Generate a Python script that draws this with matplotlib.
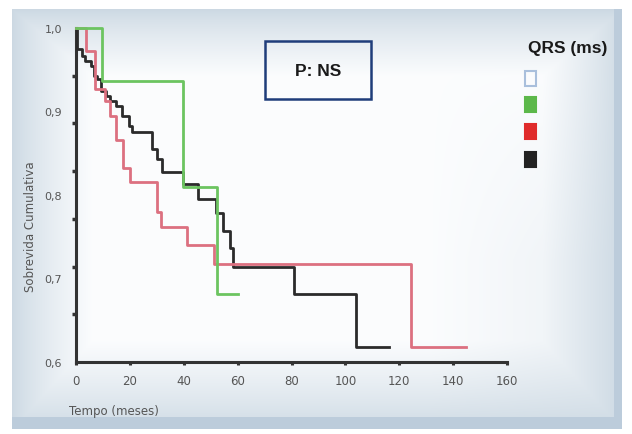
import numpy as np
import matplotlib
matplotlib.use("Agg")
import matplotlib.pyplot as plt
from matplotlib.patches import Rectangle

# ---- data ----
green_t = [0, 9.5, 39.9, 52.4, 60.0]
green_s = [1.0, 0.937, 0.810, 0.681, 0.681]

black_t = [0, 0.5, 2.3, 3.5, 5.4, 6.5, 7.9, 9.1, 11.0, 12.8, 14.7, 17.2, 19.6, 20.9,
           28.1, 29.9, 31.8, 39.6, 45.2, 51.9, 54.5, 57.0, 58.2, 80.9, 103.9, 116.2]
black_s = [1.0, 0.975, 0.967, 0.961, 0.955, 0.943, 0.939, 0.925, 0.919, 0.913, 0.907,
           0.895, 0.883, 0.875, 0.855, 0.843, 0.828, 0.813, 0.795, 0.778, 0.757, 0.736,
           0.714, 0.682, 0.618, 0.618]

red_t = [0, 3.6, 6.9, 10.9, 12.8, 14.7, 17.5, 20.0, 30.0, 31.7, 41.3, 51.3, 124.4, 144.8]
red_s = [1.0, 0.973, 0.927, 0.912, 0.895, 0.866, 0.832, 0.816, 0.780, 0.762, 0.740,
         0.717, 0.618, 0.618]

x_ticks = [0, 20, 40, 60, 80, 100, 120, 140, 160]
y_ticks = [0.6, 0.7, 0.8, 0.9, 1.0]
y_tick_labels = ["0,6", "0,7", "0,8", "0,9", "1,0"]
legend_colors = ["none", "#5cb84a", "#e02b2b", "#222222"]

W, H = 632, 435
fig = plt.figure(figsize=(W / 100, H / 100), dpi=100)
fig.patch.set_facecolor("white")

# ---- background panel gradient ----
yy, xx = np.mgrid[0:H, 0:W].astype(float)
x0, x1, y0, y1 = 12, 622, 10, 430
inside = (xx >= x0) & (xx < x1) & (yy >= y0) & (yy < y1)
d = np.minimum.reduce([xx - x0, x1 - xx, (yy - y0) * 1.2, (y1 - yy) * 0.9])
f = np.clip(d / 80.0, 0, 1) ** 0.8
# extra bluish tint on right side
rt = np.clip((xx - 430) / 190.0, 0, 1) * np.clip((yy - 60) / 200, 0, 1) * 0.35
edge = np.array([0.80, 0.85, 0.89])
center = np.array([0.985, 0.99, 0.995])
img = np.ones((H, W, 3))
col = edge[None, None, :] * (1 - f[..., None]) + center[None, None, :] * f[..., None]
col = col * (1 - rt[..., None]) + edge[None, None, :] * rt[..., None]
img[inside] = col[inside]
shadow = inside & ((yy > 417) | (xx > 613))
img[shadow] = np.array([0.74, 0.80, 0.86])
bg = fig.add_axes([0, 0, 1, 1], zorder=-10)
bg.imshow(img, aspect="auto", extent=(0, W, H, 0))
bg.axis("off")

# ---- main axes ----
ax = fig.add_axes([76 / W, 1 - 363 / H, (507 - 76) / W, (363 - 29) / H])
ax.set_facecolor("none")
ax.set_xlim(0, 160)
ax.set_ylim(0.6, 1.0)

ax.step(black_t, black_s, where="post", color="#2b2b2b", lw=2.0, clip_on=False, zorder=3)
ax.step(red_t, red_s, where="post", color="#dc7080", lw=2.0, clip_on=False, zorder=4)
ax.step(green_t, green_s, where="post", color="#6cc460", lw=2.0, clip_on=False, zorder=5)

for s in ["top", "right"]:
    ax.spines[s].set_visible(False)
for s in ["left", "bottom"]:
    ax.spines[s].set_color("#333333")
    ax.spines[s].set_linewidth(2.2)

ax.set_xticks(x_ticks)
ax.set_xticklabels([str(v) for v in x_ticks], fontsize=8.5, color="#555555",
                   family="DejaVu Sans")
ax.tick_params(axis="x", length=2.5, width=2.2, color="#333333", pad=6)

ax.set_yticks(y_ticks)
ax.set_yticklabels(y_tick_labels, fontsize=8, color="#555555", family="DejaVu Sans")
ax.tick_params(axis="y", which="major", length=0, pad=10)
ax.set_yticks([1.0 - k * 0.4 / 7 for k in range(8)], minor=True)
ax.tick_params(axis="y", which="minor", length=3, width=2.5, color="#333333")

fig.text(30 / W, 1 - 227 / H, "Sobrevida Cumulativa", rotation=90, ha="center",
         va="center", fontsize=8.5, color="#555555", family="DejaVu Sans")
fig.text(69 / W, 1 - 412 / H, "Tempo (meses)", ha="left", va="center",
         fontsize=8.5, color="#555555", family="DejaVu Sans")

# P: NS box
fig.patches.append(Rectangle((265 / W, 1 - 100 / H), 106 / W, 58 / H,
                             transform=fig.transFigure, facecolor="none",
                             edgecolor="#1f3d7a", lw=1.8))
fig.text(318 / W, 1 - 72 / H, "P: NS", ha="center", va="center", fontsize=12.5,
         fontweight="bold", color="#1a1a1a", family="Liberation Sans")

# legend
fig.text(568 / W, 1 - 49 / H, "QRS (ms)", ha="center", va="center", fontsize=12.5,
         fontweight="bold", color="#1a1a1a", family="Liberation Sans")
for i, (c, yc) in enumerate(zip(legend_colors, [79, 105, 132, 160])):
    ec = "#a9bfdc" if c == "none" else c
    fig.patches.append(Rectangle(((530 - 5.5) / W, 1 - (yc + 7.5) / H), 11 / W, 15 / H,
                                 transform=fig.transFigure, facecolor=c,
                                 edgecolor=ec, lw=1.5))

fig.savefig("out.png", dpi=100)
